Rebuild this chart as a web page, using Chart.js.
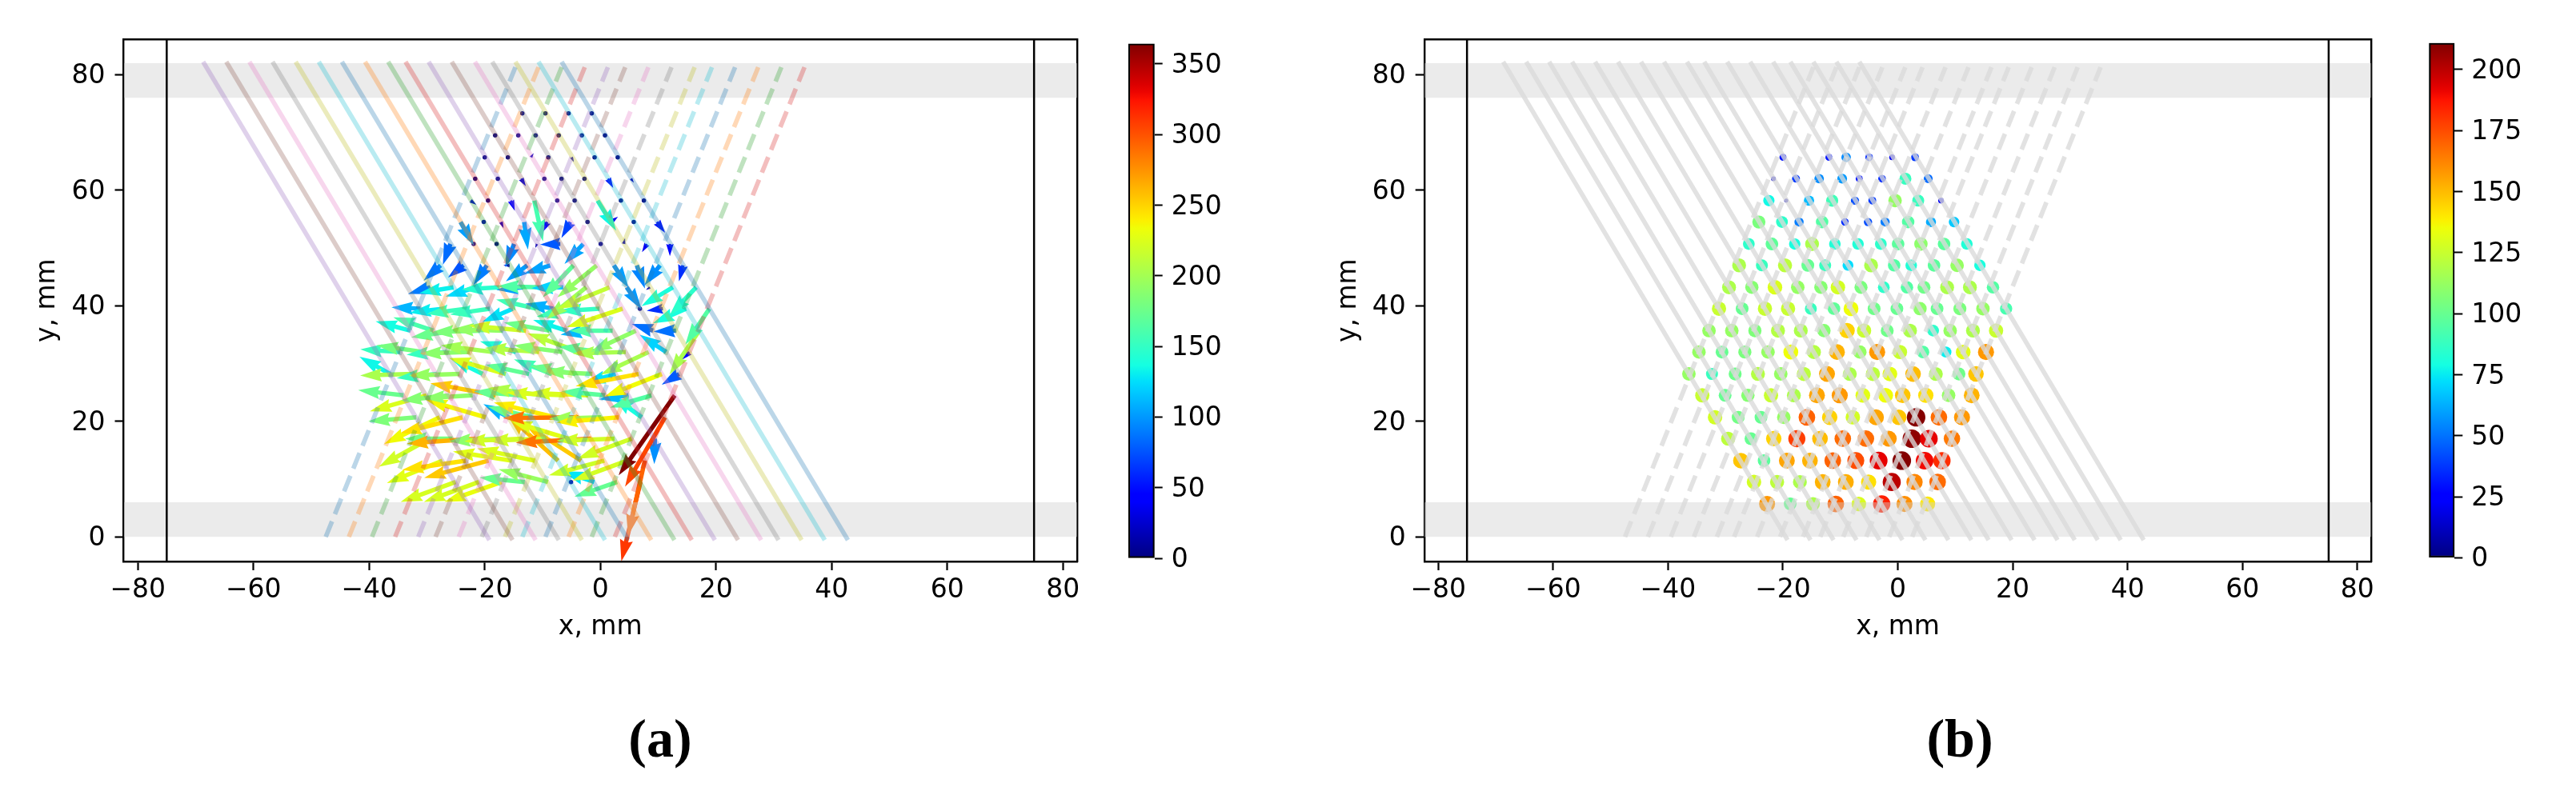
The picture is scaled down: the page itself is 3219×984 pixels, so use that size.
<!DOCTYPE html>
<html>
<head>
<meta charset="utf-8">
<script src="https://cdn.jsdelivr.net/npm/chart.js@4/dist/chart.umd.min.js"></script>
<style>
  html, body { margin: 0; padding: 0; background: #fff; width: 3219px; height: 984px; overflow: hidden; }
  canvas { position: absolute; top: 0; }
  .panel-tag { position: absolute; top: 884px; width: 120px; text-align: center; font: bold 68px "Liberation Serif", serif; color: #000; }
</style>
</head>
<body>
<canvas id="quiver-chart" width="1350" height="984" style="left:0"></canvas>
<canvas id="quiver-bar" width="160" height="984" style="left:1400px"></canvas>
<canvas id="dots-chart" width="1350" height="984" style="left:1625px"></canvas>
<canvas id="dots-bar" width="194" height="984" style="left:3025px"></canvas>
<div class="panel-tag" style="left:765px">(a)</div>
<div class="panel-tag" style="left:2389px">(b)</div>
<script>
const xTicks = [-80, -60, -40, -20, 0, 20, 40, 60, 80];
const yTicks = [0, 20, 40, 60, 80];
const quiverBarTicks = [0, 50, 100, 150, 200, 250, 300, 350];
const dotsBarTicks = [0, 25, 50, 75, 100, 125, 150, 175, 200];
const quiverMax = 364.4;
const dotsMax = 210.9;

const xRange = [-82.45, 82.45];
const yRange = [-4.25, 86.1];
const wallX = [-75, 75];
const bands = [[0, 6], [76, 82]];

// Solid beam lines, x where they reach the bottom and the top
const solidBottomX = [-19.4, -15.4, -11.4, -7.4, -3.4, 0.6, 4.6, 8.6, 12.6, 15.6, 19.6, 23.6, 27.6, 30.6, 34.6, 38.6, 42.6];
const solidTopX = [-68.5, -64.5, -60.5, -56.5, -52.5, -48.5, -44.5, -40.5, -36.5, -33.5, -29.5, -25.5, -21.5, -18.5, -14.5, -10.5, -6.5];
const solidEndsY = [-0.2, 81.9];

// Dashed beam lines
const dashedBottomX = [-47.5, -43.5, -39.5, -35.5, -31.5, -28.5, -24.5, -20.5, -16.5, -13.5, -9.5, -5.5, -1.5, 2.5];
const dashedTopX = [-14.7, -10.7, -6.7, -2.7, 1.3, 4.3, 8.3, 12.3, 16.3, 19.3, 23.3, 27.3, 31.3, 35.3];
const dashedEndsY = [0, 81.3];

// Measurement grid, one row per y
const gridY = [73.3, 69.5, 65.7, 62, 58.2, 54.5, 50.7, 47, 43.2, 39.5, 35.7, 32, 28.2, 24.5, 20.7, 17, 13.2, 9.5, 5.7];
const gridX = [
  [-13.5, -9.5, -5.5, -1.5],
  [-18.2, -14.2, -11.2, -7.2, -3.2, 0.8],
  [-20, -16, -12, -9, -5, -1, 3],
  [-21.65, -17.73, -13.7, -9.69, -6.72, -2.75, 1.32, 5.29],
  [-22.45, -19.43, -15.46, -11.43, -7.46, -4.45, -0.48, 3.55, 7.52],
  [-24.19, -20.17, -17.2, -13.18, -9.21, -5.19, -2.22, 1.8, 5.77, 9.79],
  [-25.94, -21.92, -17.95, -14.93, -10.96, -6.93, -2.96, 0.05, 4.02, 8.05, 12.02],
  [-27.63, -23.66, -19.64, -15.67, -12.65, -8.68, -4.66, -0.64, 2.33, 6.3, 10.32, 14.29],
  [-29.38, -25.41, -21.39, -17.42, -13.39, -10.43, -6.41, -2.44, 1.59, 4.55, 8.58, 12.55, 16.57],
  [-31.13, -27.1, -23.13, -19.11, -15.14, -11.12, -8.15, -4.13, -0.16, 3.86, 6.83, 10.8, 14.82, 18.85],
  [-32.87, -28.9, -24.88, -20.86, -16.89, -12.86, -8.84, -5.88, -1.85, 2.12, 6.14, 9.11, 13.08, 17.1],
  [-34.62, -30.6, -26.63, -22.6, -18.63, -14.61, -10.59, -6.62, -3.6, 0.37, 4.39, 8.36, 11.38, 15.35],
  [-36.37, -32.35, -28.32, -24.35, -20.38, -16.36, -12.33, -8.36, -4.34, -1.38, 2.65, 6.62, 10.64, 13.6],
  [-34.04, -30.07, -26.1, -22.08, -18.1, -14.08, -10.11, -6.09, -2.12, 0.85, 4.87, 8.84, 12.86],
  [-31.82, -27.79, -23.82, -19.85, -15.83, -11.86, -7.83, -3.81, 0.16, 3.18, 7.15, 11.17],
  [-29.54, -25.57, -21.6, -17.58, -13.55, -9.58, -5.56, -1.59, 2.44, 5.4, 9.42],
  [-27.32, -23.29, -19.32, -15.3, -11.33, -7.31, -3.34, 0.69, 4.66, 7.68],
  [-25.04, -21.02, -17.05, -13.08, -9.05, -5.08, -1.06, 2.91, 6.93],
  [-22.76, -18.74, -14.77, -10.8, -6.78, -2.81, 1.16, 5.19]
];

// Panel (a): arrow vectors in mm, row 5.7 has none
const arrowDx = [
  [0, 0, 0, 0],
  [0, 0, 0, 0, 0, 0],
  [0, 0, 0.45, 0, 0.4, 0, 0],
  [0, 0, 0.8, 0, 0, 0, 0.9, 0.5],
  [1, 0, 0.65, 1.5, 0, 0, 3.2, 0, 0],
  [2.3, 0.7, 0.45, 0.65, -1, -1.55, 0, 1.25, 0, 1.4],
  [-1.3, 0.2, 0, -1.5, -0.3, -3.5, -3.25, -0.35, 0.25, -0.85, 0],
  [-2.95, -2.7, -2.3, -1.1, -3.7, -4.5, -5.3, -6.8, 2.55, 1.4, -2.7, -0.7],
  [-3.9, -5.9, -5.4, -6.6, -4.6, -7.4, -5.5, -6.9, -9, 2.55, -0.7, -5.45, -4.6],
  [-5, -5.9, -6.9, -6.9, -5.3, -6.9, -4.85, -6.9, -6.8, -9.7, 0.4, -2.8, -5.75, -4.15],
  [-6, -6.9, -7.85, -8.3, -8.75, -9.9, -7.85, -5.75, -5.05, -7.4, -7.85, -3.7, -3.9, -5.15],
  [-6.9, -8.1, -6.9, -8.6, -9, -6.2, -9.4, -8.4, -9, -7.6, -9.2, -8.3, -4.6, -1.4],
  [-5.3, -9.2, -6.9, -8.8, -5.6, -9.8, -7.6, -6.6, -7.8, -8.5, -5.5, -10.9, -9.9, -3],
  [-7.85, -9.8, -8.4, -8.6, -11.3, -7.8, -9.2, -10.2, -10.2, -7.6, -5.05, -7.15, -9.7],
  [-8.3, -9.6, -10.8, -10.3, -4.4, -7.6, -10.6, -13.05, -9, -10.8, -5.05, -6.9],
  [-8.75, -8.2, -11.9, -8.6, -10, -10, -9.9, -13.05, -10, -9.4, -0.1],
  [-9.6, -11, -11.15, -10.2, -10, -8.75, -9.7, -9.6, -9.45, -2.9],
  [-9.5, -9.5, -9.9, -7.85, -8.55, -0.5, -5.5, -7.4, -3.3]
];
const arrowDy = [
  [0, 0, 0, 0],
  [0, 0, 0, 0, 0, 0],
  [0, 0, 0.7, 0, -0.8, 0, 0],
  [0, 0, -1.3, 0, 0, 0, -1.6, -0.7],
  [-0.7, 0, -1.75, -7.05, 0, 0, -5.2, 0, 0],
  [-4.05, -0.15, -1.05, -4.75, -1.95, -2.75, 0, 0.9, 0, -1.85],
  [-3.6, -0.5, 0, -4.05, -0.7, -0.1, -3.45, -0.15, 1, -1.4, -2.1],
  [-2.65, -2.1, -3.4, 0, -2.75, -1.4, -5.55, -5.55, -3.9, -4, -3.45, -2.75],
  [-1.15, -1, -1.6, -0.4, -0.45, 0.2, -0.15, -5.55, -3.7, -3.8, -0.45, -3.25, -4.85],
  [0.25, -0.7, -0.9, -1, -2.3, 1.6, 0.9, -1.4, -0.45, -3.2, -0.2, -0.35, -2.55, -6.2],
  [1.6, 2.3, -1.15, -0.25, 0.25, 0.9, 1.4, 1.85, -0.7, 0, -3.7, 1.15, -0.15, -7.6],
  [0.45, 1.15, -0.45, -0.25, 1.15, 1.85, 0.7, 1.15, 3.25, 0.9, -0.25, -3.9, 3, -1.4],
  [3, -0.25, -0.7, -0.25, 2.75, 2.75, 1.6, 2.55, 1.4, 0.45, -1.6, -2.1, -3.9, -1.85],
  [0.9, -2.75, -0.9, -0.5, 2.1, 0.7, 1.3, 0.45, 0.45, 0.7, -0.7, -2.1, -13.85],
  [-0.7, -4.6, -2.75, 3, 2.3, 1.85, 2.55, -0.15, -0.25, -0.9, 3.7, -12],
  [-4.85, 0, -0.85, -0.45, -0.45, -0.35, 3, -0.7, -0.35, -3.45, -4.4],
  [-3.9, -1.6, -3, 1.6, 2.1, 7.85, 6.25, -2.55, -3.45, -13],
  [-3.45, -3.45, -3.45, 0.8, 2.2, 0.25, 1.85, -2.55, -13.7]
];

// Panel (b): dot values, same grid
const dotValues = [
  [0, 0, 0, 0],
  [0, 0, 0, 0, 0, 0],
  [30, 0, 30, 55, 35, 20, 38],
  [14, 38, 55, 58, 30, 35, 88, 48],
  [78, 10, 65, 90, 42, 38, 112, 88, 20],
  [105, 85, 52, 95, 35, 42, 52, 95, 62, 68],
  [85, 98, 80, 118, 82, 82, 85, 97, 110, 97, 82],
  [118, 88, 122, 100, 88, 72, 118, 95, 82, 97, 112, 80],
  [118, 108, 130, 112, 108, 128, 105, 85, 95, 102, 118, 118, 95],
  [125, 100, 125, 125, 88, 98, 135, 102, 100, 110, 100, 105, 112, 92],
  [112, 112, 106, 120, 118, 108, 145, 125, 102, 118, 85, 112, 118, 125],
  [112, 100, 105, 112, 135, 120, 152, 112, 158, 125, 95, 76, 132, 158],
  [112, 88, 102, 120, 112, 122, 155, 118, 122, 132, 150, 118, 102, 148],
  [125, 100, 108, 125, 118, 155, 158, 132, 135, 148, 142, 112, 152],
  [128, 103, 100, 112, 170, 145, 128, 155, 148, 210, 168, 158],
  [122, 100, 145, 178, 150, 168, 168, 158, 208, 192, 165],
  [148, 97, 155, 152, 170, 175, 192, 210, 190, 182],
  [128, 122, 118, 152, 153, 142, 200, 162, 168],
  [158, 100, 118, 170, 130, 185, 160, 140]
];

const tab10 = ['31,119,180', '255,127,14', '44,160,44', '214,39,40', '148,103,189', '140,86,75', '227,119,194', '127,127,127', '188,189,34', '23,190,207'];
const bandColor = 'rgba(209,209,209,0.43)';
const greyLine = 'rgba(218,218,218,0.78)';
const mmToValue = 22; // arrow length to colour scale

Chart.defaults.font.family = '"DejaVu Sans"';
Chart.defaults.font.size = 33;
Chart.defaults.color = '#000';
Chart.defaults.animation = false;

// matplotlib jet
function jet(t) {
  t = Math.max(0, Math.min(1, t));
  const ramp = (pts) => {
    for (let i = 1; i < pts.length; i++) {
      if (t <= pts[i][0]) {
        const [a, va] = pts[i - 1], [b, vb] = pts[i];
        return va + (vb - va) * (t - a) / (b - a);
      }
    }
    return pts[pts.length - 1][1];
  };
  const r = ramp([[0, 0], [0.35, 0], [0.66, 1], [0.89, 1], [1, 0.5]]);
  const g = ramp([[0, 0], [0.125, 0], [0.375, 1], [0.64, 1], [0.91, 0], [1, 0]]);
  const b = ramp([[0, 0.5], [0.11, 1], [0.34, 1], [0.65, 0], [1, 0]]);
  return `rgb(${Math.round(r * 255)},${Math.round(g * 255)},${Math.round(b * 255)})`;
}

// Draws quiver arrows from a dataset of {x, y, dx, dy}
const quiverPlugin = {
  id: 'quiver',
  afterDatasetDraw(chart, args) {
    const ds = chart.data.datasets[args.index];
    if (!ds.quiver) return;
    const { ctx, scales: { x, y } } = chart;
    const w = 5.5, headLen = 27, headAxis = 24.8, headWidth = 16.5;
    ctx.save();
    ds.data.forEach((a) => {
      const x0 = x.getPixelForValue(a.x), y0 = y.getPixelForValue(a.y);
      const x1 = x.getPixelForValue(a.x + a.dx), y1 = y.getPixelForValue(a.y + a.dy);
      const len = Math.hypot(x1 - x0, y1 - y0);
      ctx.fillStyle = jet(Math.hypot(a.dx, a.dy) * mmToValue / quiverMax);
      ctx.beginPath();
      if (len < w) {
        ctx.arc(x0, y0, w / 2, 0, Math.PI * 2);
      } else {
        const s = len < headLen ? len / headLen : 1;
        const ux = (x1 - x0) / len, uy = (y1 - y0) / len;
        const pt = (along, across) => [x0 + ux * along - uy * across, y0 + uy * along + ux * across];
        const shape = [
          [0, w / 2 * s], [len - headAxis * s, w / 2 * s], [len - headLen * s, headWidth / 2 * s], [len, 0],
          [len - headLen * s, -headWidth / 2 * s], [len - headAxis * s, -w / 2 * s], [0, -w / 2 * s]
        ];
        shape.forEach(([al, ac], i) => {
          const [px, py] = pt(al, ac);
          if (i === 0) ctx.moveTo(px, py); else ctx.lineTo(px, py);
        });
        ctx.closePath();
      }
      ctx.fill();
    });
    ctx.restore();
  }
};

function frameScales(yWidth) {
  const minus = (v) => String(v).replace('-', '\u2212');
  const fixTicks = (list) => (s) => { s.ticks = list.map((value) => ({ value })); };
  const noScale = { display: true, ticks: { display: false }, grid: { display: false, drawTicks: false }, border: { color: '#000', width: 2.4 } };
  return {
    x: {
      type: 'linear', position: 'bottom', min: xRange[0], max: xRange[1],
      afterBuildTicks: fixTicks(xTicks),
      afterFit: (s) => { s.height = 282; s.paddingLeft = 0; s.paddingRight = 0; },
      ticks: { callback: minus, autoSkip: false, maxRotation: 0, padding: 6 },
      grid: { drawOnChartArea: false, tickLength: 11, tickWidth: 2.2, tickColor: '#000' },
      border: { color: '#000', width: 2.4 },
      title: { display: true, text: 'x, mm', padding: { top: 0, bottom: 180 } }
    },
    y: {
      type: 'linear', position: 'left', min: yRange[0], max: yRange[1],
      afterBuildTicks: fixTicks(yTicks),
      afterFit: (s) => { s.width = yWidth; s.paddingTop = 0; s.paddingBottom = 0; },
      ticks: { callback: minus, autoSkip: false, padding: 12, labelOffset: 2.5 },
      grid: { drawOnChartArea: false, tickLength: 11, tickWidth: 2.2, tickColor: '#000' },
      border: { color: '#000', width: 2.4 },
      title: { display: true, text: 'y, mm', padding: { top: yWidth - 94.7 - 19.8, bottom: 0 } }
    },
    x2: { ...noScale, type: 'linear', axis: 'x', position: 'top', min: xRange[0], max: xRange[1], afterFit: (s) => { s.height = 0; } },
    y2: { ...noScale, type: 'linear', axis: 'y', position: 'right', min: yRange[0], max: yRange[1], afterFit: (s) => { s.width = 0; } }
  };
}

// Lines and bands shared by the two panels
function beamDatasets(colourFor) {
  const sets = [];
  const lineSet = (pts, color, extra) => ({
    data: pts, showLine: true, pointRadius: 0, borderColor: color, borderWidth: 5.7,
    xAxisID: 'x', yAxisID: 'y', ...extra
  });
  dashedBottomX.forEach((bx, i) => {
    sets.push(lineSet([{ x: bx, y: dashedEndsY[0] }, { x: dashedTopX[i], y: dashedEndsY[1] }], colourFor(i),
      { borderDash: [21, 9.7], order: 300 - i }));
  });
  solidBottomX.forEach((bx, i) => {
    sets.push(lineSet([{ x: bx, y: solidEndsY[0] }, { x: solidTopX[i], y: solidEndsY[1] }], colourFor(i + dashedBottomX.length),
      { borderCapStyle: 'square', order: 200 - i }));
  });
  wallX.forEach((wx) => {
    sets.push(lineSet([{ x: wx, y: yRange[0] }, { x: wx, y: yRange[1] }], '#000', { borderWidth: 2.5, order: 1 }));
  });
  bands.forEach(([lo, hi]) => {
    sets.push({
      data: [{ x: xRange[0], y: hi }, { x: xRange[1], y: hi }], showLine: true, pointRadius: 0, borderWidth: 0,
      fill: { value: lo }, backgroundColor: bandColor, xAxisID: 'x', yAxisID: 'y', order: 400
    });
  });
  return sets;
}

function panelOptions(yWidth) {
  return {
    responsive: false, devicePixelRatio: 1,
    layout: { padding: { top: 49.3, left: 0, right: 4, bottom: 0 } },
    plugins: { legend: { display: false }, tooltip: { enabled: false } },
    scales: frameScales(yWidth)
  };
}

// Panel (a): arrows, drawn bottom row first
const arrowPoints = [];
for (let r = arrowDx.length - 1; r >= 0; r--) {
  arrowDx[r].forEach((dx, i) => {
    arrowPoints.push({ x: gridX[r][i], y: gridY[r], dx, dy: arrowDy[r][i] });
  });
}
new Chart(document.getElementById('quiver-chart'), {
  type: 'scatter',
  plugins: [quiverPlugin],
  data: {
    datasets: [
      { quiver: true, data: arrowPoints, pointRadius: 0, xAxisID: 'x', yAxisID: 'y', order: 500 },
      ...beamDatasets((i) => `rgba(${tab10[i % 10]},0.3)`)
    ]
  },
  options: panelOptions(154.5)
});

// Panel (b): dots sized by value
const dotPoints = [];
dotValues.forEach((row, r) => {
  row.forEach((v, i) => {
    dotPoints.push({ x: gridX[r][i], y: gridY[r], v });
  });
});
new Chart(document.getElementById('dots-chart'), {
  type: 'scatter',
  data: {
    datasets: [
      {
        data: dotPoints, xAxisID: 'x', yAxisID: 'y', order: 500, pointBorderWidth: 0,
        pointRadius: (c) => (c.raw ? 0.8 * Math.sqrt(c.raw.v) : 0),
        pointBackgroundColor: (c) => (c.raw ? jet(c.raw.v / dotsMax) : '#000')
      },
      ...beamDatasets(() => greyLine)
    ]
  },
  options: panelOptions(154.7)
});

// Colour bars
function colourBar(id, maxValue, ticks, padding, yWidth) {
  new Chart(document.getElementById(id), {
    type: 'bar',
    data: {
      labels: [''],
      datasets: [{
        data: [maxValue],
        barPercentage: 1, categoryPercentage: 1, borderColor: '#000', borderWidth: 2.4, borderSkipped: false,
        backgroundColor: (c) => {
          const area = c.chart.chartArea;
          if (!area) return '#000';
          const grad = c.chart.ctx.createLinearGradient(0, area.bottom, 0, area.top);
          for (let i = 0; i <= 64; i++) grad.addColorStop(i / 64, jet(i / 64));
          return grad;
        }
      }]
    },
    options: {
      responsive: false, devicePixelRatio: 1,
      layout: { padding },
      plugins: { legend: { display: false }, tooltip: { enabled: false } },
      scales: {
        x: { display: false },
        y: {
          position: 'right', min: 0, max: maxValue,
          afterBuildTicks: (s) => { s.ticks = ticks.map((value) => ({ value })); },
          afterFit: (s) => { s.width = yWidth; s.paddingTop = 0; s.paddingBottom = 0; },
          ticks: { padding: 11, autoSkip: false, labelOffset: 2.5 },
          grid: { drawOnChartArea: false, tickLength: 10, tickWidth: 2, tickColor: '#000' },
          border: { display: false }
        }
      }
    }
  });
}
colourBar('quiver-bar', quiverMax, quiverBarTicks, { left: 10, top: 54.5, bottom: 286, right: 0 }, 117.3);
colourBar('dots-bar', dotsMax, dotsBarTicks, { left: 10.3, top: 53.7, bottom: 286.6, right: 0 }, 151.7);
</script>
</body>
</html>
